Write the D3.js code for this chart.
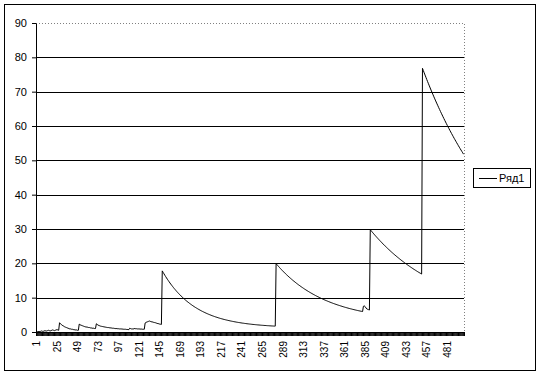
<!DOCTYPE html>
<html>
<head>
<meta charset="utf-8">
<script src="https://cdn.jsdelivr.net/npm/d3@7"></script>
<style>
  body { margin: 0; background: #fff; }
  svg { display: block; }
  svg text { font-family: Arial, "Liberation Sans", sans-serif; }
</style>
</head>
<body>
<svg width="540" height="374"></svg>
<script>
  // values, piece by piece (categories 1..500)
  var startNoise = [0, 0.1, 0.1, 0.2, 0.1, 0.2, 0.3, 0.2, 0.2, 0.3, 0.4, 0.3, 0.3, 0.4, 0.5, 0.4, 0.3, 0.4, 0.5, 0.6, 0.5, 0.4, 0.5, 0.6, 0.7, 0.6, 0.5];
  var bump1 = [2.7, 2.4, 2.2, 2.0, 1.8, 1.7, 1.5, 1.4, 1.3, 1.2, 1.1, 1.0, 0.9, 0.9, 0.8, 0.8, 0.7, 0.7, 0.6, 0.6, 0.6, 0.5, 0.5];
  var bump2 = [2.3, 2.1, 2.0, 1.9, 1.8, 1.7, 1.6, 1.5, 1.5, 1.4, 1.4, 1.3, 1.3, 1.2, 1.2, 1.1, 1.1, 1.1, 1.0, 1.0];
  var bump3 = [2.4, 2.2, 2.0, 1.9, 1.8, 1.7, 1.65, 1.6, 1.55, 1.5, 1.45, 1.4, 1.35, 1.3, 1.3, 1.25, 1.2, 1.2, 1.15, 1.1,
    1.1, 1.05, 1.0, 1.0, 1.0, 0.95, 0.95, 0.9, 0.9, 0.9, 0.85, 0.85, 0.8, 0.8, 0.8, 0.75, 0.75, 0.7, 0.7, 1.1,
    1.0, 0.9, 0.9, 0.85, 1.0, 1.0, 0.95, 0.95, 0.9, 0.9, 0.9, 0.85, 0.85, 0.85, 0.8, 0.8, 0.8];
  var bump4 = [2.6, 2.8, 2.9, 3.0, 3.1, 3.2, 3.1, 3.0, 2.95, 2.9, 2.8, 2.75, 2.7, 2.6, 2.5, 2.45, 2.4, 2.3, 2.25, 2.2];
  var decay1 = [17.8, 17.37, 16.95, 16.53, 16.13, 15.74, 15.36, 15.0, 14.64, 14.28,
    13.94, 13.61, 13.29, 12.97, 12.66, 12.37, 12.07, 11.79, 11.51, 11.25,
    10.98, 10.73, 10.48, 10.24, 10.0, 9.77, 9.55, 9.33, 9.12, 8.91,
    8.71, 8.52, 8.32, 8.14, 7.96, 7.78, 7.61, 7.44, 7.28, 7.12,
    6.97, 6.82, 6.67, 6.53, 6.39, 6.25, 6.12, 5.99, 5.87, 5.75,
    5.63, 5.51, 5.4, 5.29, 5.18, 5.08, 4.98, 4.88, 4.78, 4.69,
    4.6, 4.51, 4.42, 4.34, 4.26, 4.18, 4.1, 4.02, 3.95, 3.88,
    3.81, 3.74, 3.67, 3.61, 3.55, 3.49, 3.43, 3.37, 3.31, 3.26,
    3.2, 3.15, 3.1, 3.05, 3.0, 2.96, 2.91, 2.86, 2.82, 2.78,
    2.74, 2.7, 2.66, 2.62, 2.58, 2.55, 2.51, 2.48, 2.44, 2.41,
    2.38, 2.35, 2.32, 2.29, 2.26, 2.23, 2.21, 2.18, 2.16, 2.13,
    2.11, 2.08, 2.06, 2.04, 2.02, 1.99, 1.97, 1.95, 1.93, 1.91,
    1.9, 1.88, 1.86, 1.84, 1.83, 1.81, 1.79, 1.78, 1.76, 1.75,
    1.73, 1.72, 1.71];
  var decay2 = [19.9, 19.61, 19.33, 19.05, 18.77, 18.5, 18.24, 17.97, 17.72, 17.47,
    17.22, 16.97, 16.73, 16.5, 16.27, 16.04, 15.82, 15.6, 15.38, 15.17,
    14.96, 14.76, 14.56, 14.36, 14.16, 13.97, 13.78, 13.6, 13.42, 13.24,
    13.06, 12.89, 12.72, 12.55, 12.39, 12.23, 12.07, 11.92, 11.76, 11.61,
    11.47, 11.32, 11.18, 11.04, 10.9, 10.77, 10.63, 10.5, 10.37, 10.25,
    10.12, 10.0, 9.88, 9.76, 9.65, 9.53, 9.42, 9.31, 9.2, 9.1,
    8.99, 8.89, 8.79, 8.69, 8.59, 8.5, 8.4, 8.31, 8.22, 8.13,
    8.04, 7.96, 7.87, 7.79, 7.71, 7.63, 7.55, 7.47, 7.39, 7.32,
    7.24, 7.17, 7.1, 7.03, 6.96, 6.89, 6.83, 6.76, 6.7, 6.63,
    6.57, 6.51, 6.45, 6.39, 6.33, 6.28, 6.22, 6.17, 6.11, 6.06,
    6.01, 5.96];
  var zigzag = [7.5, 7.6, 7.4, 7.0, 6.7, 6.6, 6.5, 6.4];
  var decay3 = [29.8, 29.5, 29.2, 28.9, 28.61, 28.32, 28.04, 27.76, 27.48, 27.21,
    26.94, 26.67, 26.41, 26.15, 25.89, 25.63, 25.38, 25.13, 24.89, 24.65,
    24.41, 24.17, 23.94, 23.71, 23.48, 23.25, 23.03, 22.81, 22.6, 22.38,
    22.17, 21.96, 21.75, 21.55, 21.35, 21.15, 20.95, 20.76, 20.57, 20.38,
    20.19, 20.0, 19.82, 19.64, 19.46, 19.28, 19.11, 18.94, 18.77, 18.6,
    18.43, 18.27, 18.11, 17.95, 17.79, 17.63, 17.48, 17.33, 17.18, 17.03,
    16.88];
  var decay4 = [76.8, 76.14, 75.48, 74.83, 74.19, 73.55, 72.92, 72.3, 71.68, 71.07,
    70.47, 69.87, 69.28, 68.7, 68.12, 67.55, 66.99, 66.43, 65.88, 65.33,
    64.79, 64.25, 63.72, 63.2, 62.68, 62.17, 61.66, 61.16, 60.66, 60.17,
    59.69, 59.21, 58.73, 58.26, 57.8, 57.34, 56.88, 56.43, 55.99, 55.55,
    55.11, 54.68, 54.25, 53.83, 53.41, 53.0, 52.59, 52.19, 51.79];

  var xTickLabels = [1, 25, 49, 73, 97, 121, 145, 169, 193, 217, 241, 265, 289, 313, 337, 361, 385, 409, 433, 457, 481];
  var yTickValues = [0, 10, 20, 30, 40, 50, 60, 70, 80, 90];
  var seriesName = "Ряд1";

  var values = [].concat(startNoise, bump1, bump2, bump3, bump4, decay1, decay2, zigzag, decay3, decay4);
  var categories = d3.range(1, values.length + 1);
  var data = categories.map(function (c, i) { return { cat: c, value: values[i] }; });

  var svg = d3.select("svg");
  var width = +svg.attr("width");
  var height = +svg.attr("height");

  var margin = { top: 23, right: 76, bottom: 42, left: 36 };
  var innerWidth = width - margin.left - margin.right;
  var innerHeight = height - margin.top - margin.bottom;

  svg.append("rect")
    .attr("width", width).attr("height", height).attr("fill", "#fff");

  // chart area frame
  svg.append("rect")
    .attr("x", 4.5).attr("y", 4.5)
    .attr("width", width - 9).attr("height", height - 8)
    .attr("fill", "none").attr("stroke", "#000");

  var xScale = d3.scaleBand().domain(categories).range([0, innerWidth]);
  var xEdge = d3.scaleLinear().domain([0, categories.length]).range([0, innerWidth]);
  var yScale = d3.scaleLinear().domain([0, 90]).range([innerHeight, 0]);

  var g = svg.append("g")
    .attr("transform", "translate(" + margin.left + "," + margin.top + ")");

  // plot area border (dotted, top and right)
  g.append("path")
    .attr("d", "M0,0.5H" + (innerWidth + 0.5) + "V" + innerHeight)
    .attr("fill", "none")
    .attr("stroke", "#808080")
    .attr("stroke-dasharray", "1,2");

  // gridlines
  g.selectAll(".grid")
    .data(yTickValues.filter(function (d) { return d > 0 && d < 90; }))
    .enter()
    .append("line")
    .attr("class", "grid")
    .attr("x1", 0).attr("x2", innerWidth)
    .attr("y1", function (d) { return Math.round(yScale(d)) + 0.5; })
    .attr("y2", function (d) { return Math.round(yScale(d)) + 0.5; })
    .attr("stroke", "#000");

  // y axis
  var yAxis = d3.axisLeft(yScale).tickValues(yTickValues).tickSize(4).tickSizeOuter(0).tickPadding(5);
  var yAxisGroup = g.append("g").call(yAxis).attr("font-family", null).attr("font-size", 11);
  yAxisGroup.selectAll("text").attr("fill", "#000");
  yAxisGroup.selectAll("line, path").attr("stroke", "#000");

  // x axis: one tick per category boundary
  var xTickAxis = d3.axisBottom(xEdge)
    .tickValues(d3.range(0, categories.length + 1))
    .tickFormat("")
    .tickSize(4)
    .tickSizeOuter(0);
  var xTickGroup = g.append("g")
    .attr("transform", "translate(0," + innerHeight + ")")
    .call(xTickAxis);
  xTickGroup.selectAll("text").remove();
  xTickGroup.selectAll("line, path").attr("stroke", "#000");

  // x axis labels, rotated
  var xLabelAxis = d3.axisBottom(xScale).tickValues(xTickLabels).tickSize(0).tickSizeOuter(0);
  var xLabelGroup = g.append("g")
    .attr("transform", "translate(0," + innerHeight + ")")
    .call(xLabelAxis)
    .attr("font-family", null)
    .attr("font-size", 10);
  xLabelGroup.select(".domain").remove();
  xLabelGroup.selectAll("text")
    .attr("fill", "#000")
    .attr("text-anchor", "end")
    .attr("transform", "rotate(-90)")
    .attr("x", -9)
    .attr("y", 0)
    .attr("dy", "0.35em");

  // series line
  var line = d3.line()
    .x(function (d) { return xScale(d.cat) + xScale.bandwidth() / 2; })
    .y(function (d) { return yScale(d.value); });

  g.append("path")
    .datum(data)
    .attr("d", line)
    .attr("fill", "none")
    .attr("stroke", "#000")
    .attr("stroke-width", 1);

  // legend
  var legend = svg.append("g").attr("transform", "translate(473,168)");
  legend.append("rect")
    .attr("x", 0.5).attr("y", 0.5)
    .attr("width", 57).attr("height", 19)
    .attr("fill", "#fff").attr("stroke", "#000");
  legend.append("line")
    .attr("x1", 6).attr("x2", 24)
    .attr("y1", 10.5).attr("y2", 10.5)
    .attr("stroke", "#000");
  legend.append("text")
    .text(seriesName)
    .attr("x", 26)
    .attr("y", 14)
    .attr("font-size", 11)
    .attr("fill", "#000");
</script>
</body>
</html>
